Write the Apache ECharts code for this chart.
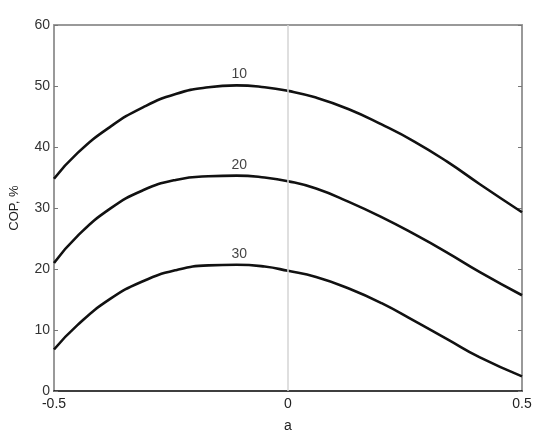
<!DOCTYPE html>
<html>
<head>
<meta charset="utf-8">
<script src="https://cdn.jsdelivr.net/npm/echarts@6/dist/echarts.min.js"></script>
<style>
  html, body { margin: 0; padding: 0; background: #fff; }
  #chart { width: 537px; height: 438px; }
</style>
</head>
<body>
<div id="chart"></div>
<script>
// values
const xs = [-0.5, -0.45, -0.38, -0.31, -0.24, -0.17, -0.11, -0.05, 0, 0.06, 0.13, 0.2, 0.27, 0.34, 0.41, 0.5]
const cop10 = [34.8, 39.0, 43.3, 46.5, 48.7, 49.8, 50.1, 49.8, 49.2, 48.1, 46.2, 43.7, 40.9, 37.6, 33.9, 29.3]
const cop20 = [21.0, 25.4, 29.9, 32.9, 34.6, 35.2, 35.3, 35.0, 34.4, 33.2, 31.0, 28.5, 25.7, 22.7, 19.5, 15.7]
const cop30 = [6.8, 10.8, 15.1, 18.0, 19.8, 20.6, 20.7, 20.4, 19.7, 18.7, 16.8, 14.4, 11.5, 8.5, 5.5, 2.4]
const curveNames = ['10', '20', '30']
const labelX = [-0.104, -0.104, -0.104]
const labelY = [51.9, 37.0, 22.5]
const xTicks = [-0.5, 0, 0.5]

const font = 'Liberation Sans, Arial, sans-serif'
const pair = (ys) => xs.map((x, i) => [x, ys[i]])

const curve = (name, ys) => ({
  name,
  type: 'line',
  smooth: true,
  symbol: 'none',
  data: pair(ys),
  lineStyle: { color: '#111', width: 2.6 },
  z: 3
})

const chart = echarts.init(document.getElementById('chart'))
chart.setOption({
  animation: false,
  backgroundColor: '#fff',
  grid: { left: 49, right: 15, top: 25, bottom: 45 },
  xAxis: [
    {
      type: 'value',
      min: -0.5,
      max: 0.5,
      interval: 0.5,
      name: 'a',
      nameLocation: 'middle',
      nameGap: 28,
      nameTextStyle: { color: '#222', fontSize: 14, fontFamily: font },
      axisLine: { show: true, onZero: false, lineStyle: { color: '#000', width: 1.5 } },
      axisTick: { show: false },
      splitLine: { show: false },
      axisLabel: {
        color: '#222', fontSize: 14, fontFamily: font, margin: 6,
        formatter: (v) => xTicks.includes(v) ? String(v) : ''
      }
    },
    {
      type: 'value',
      position: 'top',
      min: -0.5,
      max: 0.5,
      axisLine: { show: true, onZero: false, lineStyle: { color: '#999', width: 2 } },
      axisTick: { show: false },
      axisLabel: { show: false },
      splitLine: { show: false }
    }
  ],
  yAxis: [
    {
      type: 'value',
      min: 0,
      max: 60,
      interval: 10,
      name: 'COP, %',
      nameLocation: 'middle',
      nameGap: 33,
      nameTextStyle: { color: '#222', fontSize: 13, fontFamily: font },
      axisLine: { show: true, onZero: false, lineStyle: { color: '#999', width: 2 } },
      axisTick: { show: true, inside: true, length: 4, lineStyle: { color: '#777' } },
      splitLine: { show: false },
      axisLabel: { color: '#333', fontSize: 14, fontFamily: font, margin: 4 }
    },
    {
      type: 'value',
      position: 'right',
      min: 0,
      max: 60,
      interval: 10,
      axisLine: { show: true, onZero: false, lineStyle: { color: '#999', width: 2 } },
      axisTick: { show: true, inside: true, length: 4, lineStyle: { color: '#777' } },
      axisLabel: { show: false },
      splitLine: { show: false }
    }
  ],
  series: [
    Object.assign(curve(curveNames[0], cop10), {
      markLine: {
        silent: true,
        symbol: 'none',
        label: { show: false },
        lineStyle: { color: '#d4d4d4', type: 'solid', width: 1.5 },
        data: [{ xAxis: 0 }]
      }
    }),
    curve(curveNames[1], cop20),
    curve(curveNames[2], cop30),
    {
      type: 'scatter',
      symbolSize: 0,
      data: labelX.map((x, i) => [x, labelY[i], curveNames[i]]),
      label: {
        show: true,
        position: 'inside',
        formatter: (p) => p.data[2],
        color: '#111',
        fontSize: 14,
        fontFamily: font
      },
      z: 4
    }
  ]
})
</script>
</body>
</html>
